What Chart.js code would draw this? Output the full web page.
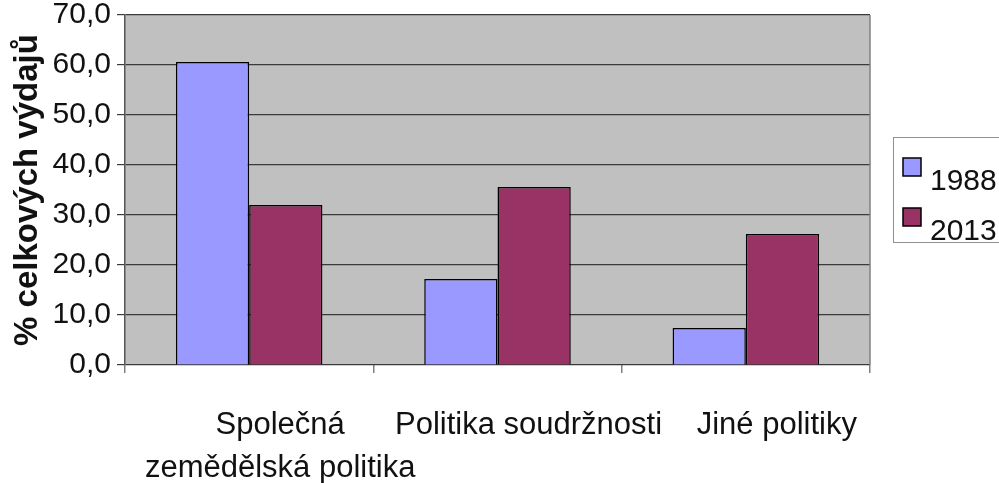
<!DOCTYPE html>
<html>
<head>
<meta charset="utf-8">
<script src="https://cdn.jsdelivr.net/npm/chart.js@4"></script>
<style>
  html, body { margin:0; padding:0; background:#fff; overflow:hidden; }
  #wrap { width:999px; height:483px; position:relative; }
</style>
</head>
<body>
<div id="wrap"><canvas id="c"></canvas></div>
<script>
const categories = [['Společná', 'zemědělská politika'], 'Politika soudržnosti', 'Jiné politiky'];
const years = ['1988', '2013'];
const values1988 = [60.6, 17.2, 7.4];
const values2013 = [32.0, 35.6, 26.2];
const yTicks = [0, 10, 20, 30, 40, 50, 60, 70];

const FONT = '"Liberation Sans", Arial, sans-serif';
const colors = ['#9999ff', '#993366'];

// plot background + right frame line
const plotBg = {
  id: 'plotBg',
  beforeDraw(chart){
    const {ctx, chartArea:a} = chart;
    ctx.save();
    ctx.fillStyle = '#c0c0c0';
    ctx.fillRect(a.left, a.top, a.right-a.left, a.bottom-a.top);
    ctx.restore();
  },
  afterDraw(chart){
    const {ctx, chartArea:a} = chart;
    ctx.save();
    ctx.strokeStyle = '#808080';
    ctx.lineWidth = 1.5;
    ctx.beginPath();
    ctx.moveTo(a.right, a.top); ctx.lineTo(a.right, a.bottom);
    ctx.stroke();
    ctx.restore();
  }
};

// boxed legend on the right (runs off the edge like the original)
const boxLegend = {
  id: 'boxLegend',
  afterDraw(chart){
    const {ctx} = chart;
    ctx.save();
    ctx.strokeStyle = '#909090';
    ctx.lineWidth = 1;
    ctx.strokeRect(893.5, 137.5, 160, 105);
    ctx.font = '30px ' + FONT;
    ctx.textBaseline = 'alphabetic';
    chart.data.datasets.forEach((ds, i) => {
      const y = 158 + i*50;
      ctx.fillStyle = ds.backgroundColor;
      ctx.fillRect(903, y, 18, 18);
      ctx.strokeStyle = '#000';
      ctx.lineWidth = 1.5;
      ctx.strokeRect(903, y, 18, 18);
      ctx.fillStyle = '#111';
      ctx.fillText(ds.label, 930, y + 32);
    });
    ctx.restore();
  }
};

new Chart(document.getElementById('c'), {
  type: 'bar',
  data: {
    labels: categories,
    datasets: [
      { label: years[0], data: values1988, backgroundColor: colors[0], borderColor: '#000', borderWidth: 1.5 },
      { label: years[1], data: values2013, backgroundColor: colors[1], borderColor: '#000', borderWidth: 1.5 }
    ]
  },
  options: {
    responsive: true,
    maintainAspectRatio: false,
    animation: false,
    events: [],
    layout: { padding: { left: 0, right: 129, top: 15, bottom: 0 } },
    datasets: { bar: { categoryPercentage: 0.59, barPercentage: 1.0 } },
    plugins: { legend: { display: false }, tooltip: { enabled: false } },
    scales: {
      x: {
        offset: true,
        grid: { offset: true, drawOnChartArea: false, drawTicks: true, tickLength: 8, color: '#808080', lineWidth: 1.5 },
        border: { display: false },
        ticks: { color: '#111', font: { family: FONT, size: 31, lineHeight: 1.38 }, padding: 31, labelOffset: 31, maxRotation: 0, autoSkip: false },
        afterFit(s){ s.height = 118; s.paddingLeft = 0; s.paddingRight = 0; }
      },
      y: {
        min: 0, max: 70,
        afterBuildTicks(s){ s.ticks = yTicks.map(v => ({ value: v })); },
        grid: { color: '#3a3a3a', lineWidth: 1.2, tickLength: 8 },
        border: { display: true, color: '#555', width: 1.5 },
        ticks: {
          color: '#111', font: { family: FONT, size: 30 }, padding: 6,
          callback: v => v.toFixed(1).replace('.', ',')
        },
        title: { display: true, text: '% celkových výdajů', color: '#111', font: { family: FONT, size: 33, weight: 'bold' }, padding: { top: 8, bottom: 4 } },
        afterFit(s){ s.width = 125; s.paddingTop = 0; s.paddingBottom = 0; }
      }
    }
  },
  plugins: [plotBg, boxLegend]
});
</script>
</body>
</html>
